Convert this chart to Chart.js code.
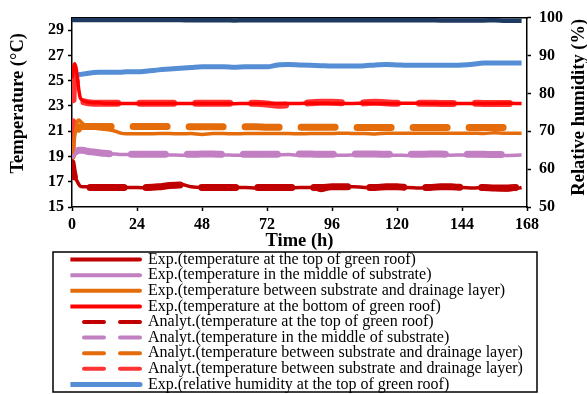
<!DOCTYPE html>
<html>
<head>
<meta charset="utf-8">
<script src="https://cdn.jsdelivr.net/npm/chart.js@4.4.1/dist/chart.umd.min.js"></script>
<style>
  body { margin: 0; background: #fff; }
  #caja { width: 587px; height: 394px; }
</style>
</head>
<body>
<div id="caja"><canvas id="grafico"></canvas></div>
<script>

let horas = [0, 0.5, 1, 1.5, 2, 2.5, 3, 4, 5, 6, 8, 10, 12, 14, 16, 18, 20,
  24, 28, 32, 36, 40, 44, 48, 52, 56, 60, 64, 68, 72, 76, 80, 84, 88, 92,
  96, 100, 104, 108, 112, 116, 120, 124, 128, 132, 136, 140, 144, 148, 152, 156, 160, 164, 166]

let ticksTiempo = [0, 24, 48, 72, 96, 120, 144, 168]
let ticksTemp = [15, 17, 19, 21, 23, 25, 27, 29]
let ticksHumedad = [50, 60, 70, 80, 90, 100]

let expArriba = [18.6, 18.0, 17.5, 17.2, 17.0, 16.8, 16.65, 16.6, 16.6, 16.6, 16.55, 16.5, 16.55, 16.5, 16.55, 16.5, 16.55,
  16.55, 16.5, 16.6, 16.7, 16.8, 16.6, 16.55, 16.55, 16.5, 16.55, 16.55, 16.5, 16.55, 16.55, 16.5, 16.55, 16.55, 16.3,
  16.55, 16.6, 16.6, 16.55, 16.55, 16.6, 16.55, 16.55, 16.5, 16.55, 16.55, 16.55, 16.55, 16.5, 16.55, 16.4, 16.35, 16.45, 16.55]

let expMedio = [18.9, 19.0, 19.15, 19.25, 19.35, 19.4, 19.45, 19.45, 19.4, 19.4, 19.35, 19.3, 19.25, 19.2, 19.2, 19.15, 19.15,
  19.12, 19.1, 19.1, 19.12, 19.1, 19.1, 19.1, 19.1, 19.12, 19.1, 19.1, 19.08, 19.1, 19.12, 19.15, 19.1, 19.1, 19.08,
  19.1, 19.1, 19.12, 19.15, 19.12, 19.1, 19.1, 19.08, 19.1, 19.1, 19.12, 19.1, 19.12, 19.1, 19.08, 19.1, 19.08, 19.1, 19.12]

let expEntre = [19.0, 19.8, 20.6, 21.3, 21.8, 21.9, 21.8, 21.6, 21.45, 21.35, 21.25, 21.2, 21.15, 21.1, 21.0, 20.85, 20.8,
  20.8, 20.8, 20.82, 20.82, 20.8, 20.82, 20.75, 20.82, 20.82, 20.8, 20.82, 20.82, 20.82, 20.82, 20.82, 20.8, 20.82, 20.82,
  20.82, 20.85, 20.82, 20.82, 20.78, 20.85, 20.85, 20.85, 20.85, 20.85, 20.85, 20.85, 20.85, 20.85, 20.82, 20.88, 20.85, 20.85, 20.85]

let expFondo = [25.2, 26.0, 26.35, 26.0, 25.2, 24.3, 23.7, 23.45, 23.35, 23.3, 23.25, 23.25, 23.2, 23.2, 23.2, 23.2, 23.2,
  23.2, 23.2, 23.2, 23.2, 23.2, 23.2, 23.2, 23.2, 23.2, 23.18, 23.2, 23.2, 23.2, 23.2, 23.2, 23.2, 23.22, 23.22,
  23.2, 23.2, 23.2, 23.22, 23.2, 23.2, 23.2, 23.22, 23.22, 23.2, 23.2, 23.2, 23.2, 23.2, 23.2, 23.2, 23.22, 23.2, 23.2]

let analArriba = [18.5, 17.8, 17.3, 17.0, 16.8, 16.7, 16.6, 16.55, 16.55, 16.55, 16.55, 16.55, 16.55, 16.55, 16.55, 16.55, 16.55,
  16.55, 16.55, 16.6, 16.7, 16.75, 16.6, 16.55, 16.55, 16.55, 16.55, 16.55, 16.55, 16.55, 16.55, 16.55, 16.55, 16.55, 16.55,
  16.6, 16.6, 16.6, 16.55, 16.55, 16.6, 16.6, 16.55, 16.55, 16.55, 16.6, 16.6, 16.55, 16.55, 16.55, 16.5, 16.5, 16.55, 16.55]

let analMedio = [18.85, 19.1, 19.3, 19.4, 19.45, 19.5, 19.5, 19.5, 19.45, 19.4, 19.35, 19.3, 19.25, 19.22, 19.2, 19.2, 19.18,
  19.18, 19.18, 19.17, 19.17, 19.17, 19.17, 19.2, 19.2, 19.17, 19.17, 19.17, 19.17, 19.17, 19.17, 19.2, 19.2, 19.2, 19.17,
  19.17, 19.17, 19.2, 19.2, 19.2, 19.17, 19.17, 19.17, 19.17, 19.2, 19.2, 19.17, 19.17, 19.17, 19.17, 19.15, 19.15, 19.15, 19.15]

let analEntre = [19.0, 19.3, 19.8, 20.4, 20.9, 21.2, 21.35, 21.38, 21.38, 21.38, 21.38, 21.38, 21.38, 21.38, 21.38, 21.38, 21.38,
  21.38, 21.38, 21.38, 21.38, 21.38, 21.36, 21.35, 21.35, 21.35, 21.35, 21.35, 21.35, 21.32, 21.32, 21.32, 21.32, 21.32, 21.32,
  21.32, 21.3, 21.3, 21.3, 21.3, 21.3, 21.3, 21.3, 21.3, 21.3, 21.3, 21.3, 21.3, 21.3, 21.3, 21.3, 21.3, 21.3, 21.3]

let analFondo = [18.9, 24.5, 25.5, 25.0, 24.3, 23.8, 23.5, 23.35, 23.3, 23.25, 23.22, 23.22, 23.22, 23.22, 23.22, 23.22, 23.22,
  23.22, 23.22, 23.22, 23.22, 23.22, 23.22, 23.22, 23.22, 23.22, 23.22, 23.22, 23.22, 23.15, 23.05, 23.1, 23.22, 23.25, 23.3,
  23.3, 23.25, 23.22, 23.25, 23.3, 23.25, 23.22, 23.22, 23.22, 23.22, 23.2, 23.2, 23.22, 23.22, 23.2, 23.2, 23.2, 23.2, 23.22]

let humedad = [84.5, 84.6, 84.7, 84.8, 84.9, 84.9, 85.0, 85.1, 85.2, 85.3, 85.5, 85.6, 85.6, 85.6, 85.6, 85.6, 85.7,
  85.7, 85.9, 86.2, 86.4, 86.6, 86.8, 87.0, 87.0, 87.0, 86.9, 87.0, 87.0, 87.0, 87.5, 87.6, 87.5, 87.4, 87.3,
  87.2, 87.2, 87.2, 87.3, 87.5, 87.6, 87.5, 87.4, 87.4, 87.4, 87.4, 87.4, 87.5, 87.7, 88.0, 88.0, 88.0, 88.0, 88.0]

// linea azul oscura arriba, no sale en la leyenda
let humedadTope = [99.35, 99.35, 99.35, 99.35, 99.35, 99.35, 99.35, 99.35, 99.35, 99.35, 99.35, 99.35, 99.35, 99.35, 99.35, 99.35, 99.35,
  99.35, 99.35, 99.35, 99.35, 99.35, 99.3, 99.3, 99.3, 99.3, 99.25, 99.3, 99.3, 99.3, 99.3, 99.3, 99.3, 99.3, 99.3,
  99.3, 99.3, 99.3, 99.3, 99.3, 99.3, 99.3, 99.3, 99.3, 99.3, 99.25, 99.25, 99.25, 99.25, 99.25, 99.3, 99.2, 99.2, 99.2]

function puntos(valores) {
  return horas.map((h, i) => ({x: h, y: valores[i]}))
}

function serie(label, valores, color, eje, ancho, offset) {
  var ds = {
    label: label,
    data: puntos(valores),
    borderColor: color,
    backgroundColor: color,
    borderWidth: ancho,
    pointRadius: 0,
    cubicInterpolationMode: 'monotone',
    xAxisID: 'x',
    yAxisID: eje
  }
  if (offset !== undefined) {
    ds.borderDash = [34, 22]
    ds.borderDashOffset = offset
    ds.borderCapStyle = 'round'
  }
  return ds
}

var datasets = [
  serie('Exp.(temperature at the top of green roof)', expArriba, '#c00000', 'y', 3.5),
  serie('Exp.(temperature in the middle of substrate)', expMedio, '#c27fc2', 'y', 3.5),
  serie('Exp.(temperature between substrate and drainage layer)', expEntre, '#e46c0a', 'y', 3.5),
  serie('Exp.(temperature at the bottom of green roof)', expFondo, '#ff0000', 'y', 3.5),
  serie('Analyt.(temperature at the top of green roof)', analArriba, '#c00000', 'y', 7, 20),
  serie('Analyt.(temperature in the middle of substrate)', analMedio, '#c27fc2', 'y', 7, 48),
  serie('Analyt.(temperature between substrate and drainage layer)', analEntre, '#e46c0a', 'y', 7, 28),
  serie('Analyt.(temperature between substrate and drainage layer)', analFondo, '#ff3333', 'y', 7, 110),
  serie('Exp.(relative humidity at the top of green roof)', humedad, '#558ed5', 'y1', 5),
  serie('top', humedadTope, '#1f3a60', 'y1', 4.5)
]

const negro = '#000'
const fuenteTick = {size: 16, weight: 'bold'}
const fuenteTitulo = "bold 18.5px 'Liberation Serif', serif"

const extras = {
  id: 'extras',
  afterLayout(chart) {
    // la leyenda empieza un poco antes del area y 1px mas abajo
    chart.legend.left = chart.chartArea.left - 1.6
    chart.legend.top = chart.legend.top + 1
  },
  afterDraw(chart) {
    const ctx = chart.ctx
    const ca = chart.chartArea
    const lg = chart.legend
    ctx.save()
    ctx.strokeStyle = negro
    ctx.lineWidth = 1.5
    ctx.strokeRect(ca.left - 19, lg.top, ca.right - ca.left + 29, 140)
    ctx.fillStyle = negro
    ctx.font = fuenteTitulo
    ctx.textAlign = 'center'
    ctx.textBaseline = 'middle'
    ctx.translate(18, (ca.top + ca.bottom) / 2 - 9)
    ctx.rotate(-Math.PI / 2)
    ctx.fillText('Temperature (°C)', 0, 0)
    ctx.restore()
    ctx.save()
    ctx.fillStyle = negro
    ctx.font = fuenteTitulo
    ctx.textAlign = 'center'
    ctx.textBaseline = 'middle'
    ctx.translate(579.5, (ca.top + ca.bottom) / 2 - 5)
    ctx.rotate(-Math.PI / 2)
    ctx.fillText('Relative humidity (%)', 0, 0)
    ctx.restore()
  }
}

Chart.defaults.font.family = "'Liberation Serif', 'Times New Roman', serif"
Chart.defaults.color = negro

window.onload = function () {
  new Chart(document.getElementById('grafico'), {
    type: 'line',
    data: {datasets: datasets},
    plugins: [extras],
    options: {
      animation: false,
      responsive: true,
      maintainAspectRatio: false,
      layout: {padding: {top: 15, left: 9, right: 0, bottom: -7.4}},
      plugins: {
        tooltip: {enabled: false},
        legend: {
          position: 'bottom',
          align: 'start',
          labels: {
            usePointStyle: true,
            pointStyleWidth: 70,
            padding: -0.4,
            color: negro,
            font: {size: 16},
            generateLabels(chart) {
              const items = Chart.defaults.plugins.legend.labels.generateLabels(chart)
              return items.filter(it => it.datasetIndex < 9).map(it => {
                const ds = chart.data.datasets[it.datasetIndex]
                it.pointStyle = 'line'
                it.strokeStyle = ds.borderColor
                it.lineWidth = ds.yAxisID === 'y1' ? 5 : 4
                it.lineCap = 'round'
                it.lineDash = ds.borderDash ? [20, 16] : []
                it.lineDashOffset = ds.borderDash ? 22 : 0
                return it
              })
            }
          }
        }
      },
      scales: {
        x: {
          type: 'linear', position: 'bottom', min: 0, max: 168,
          afterBuildTicks: s => { s.ticks = ticksTiempo.map(v => ({value: v})) },
          afterFit: s => { s.height = 44 },
          grid: {drawOnChartArea: false, tickLength: 4, tickColor: negro, tickWidth: 1.5},
          border: {color: negro, width: 1.5},
          ticks: {color: negro, font: fuenteTick, padding: 4, maxRotation: 0},
          title: {display: true, text: 'Time (h)', color: negro,
            font: {size: 18.5, weight: 'bold', lineHeight: 1}, padding: {top: 0, bottom: 1}}
        },
        xTop: {
          type: 'linear', position: 'top', min: 0, max: 168,
          afterFit: s => { s.height = 0 },
          grid: {display: false, drawTicks: false},
          ticks: {display: false},
          border: {color: negro, width: 1.5}
        },
        y: {
          type: 'linear', position: 'left', min: 15, max: 30,
          afterBuildTicks: s => { s.ticks = ticksTemp.map(v => ({value: v})) },
          afterFit: s => { s.width = 63 },
          grid: {drawOnChartArea: false, tickLength: 4, tickColor: negro, tickWidth: 1.5},
          border: {color: negro, width: 1.5},
          ticks: {color: negro, font: fuenteTick, padding: 4}
        },
        y1: {
          type: 'linear', position: 'right', min: 50, max: 100,
          afterBuildTicks: s => { s.ticks = ticksHumedad.map(v => ({value: v})) },
          afterFit: s => { s.width = 60 },
          grid: {drawOnChartArea: false, tickLength: 4, tickColor: negro, tickWidth: 1.5},
          border: {color: negro, width: 1.5},
          ticks: {color: negro, font: fuenteTick, padding: 8}
        }
      }
    }
  })
}
</script>
</body>
</html>
